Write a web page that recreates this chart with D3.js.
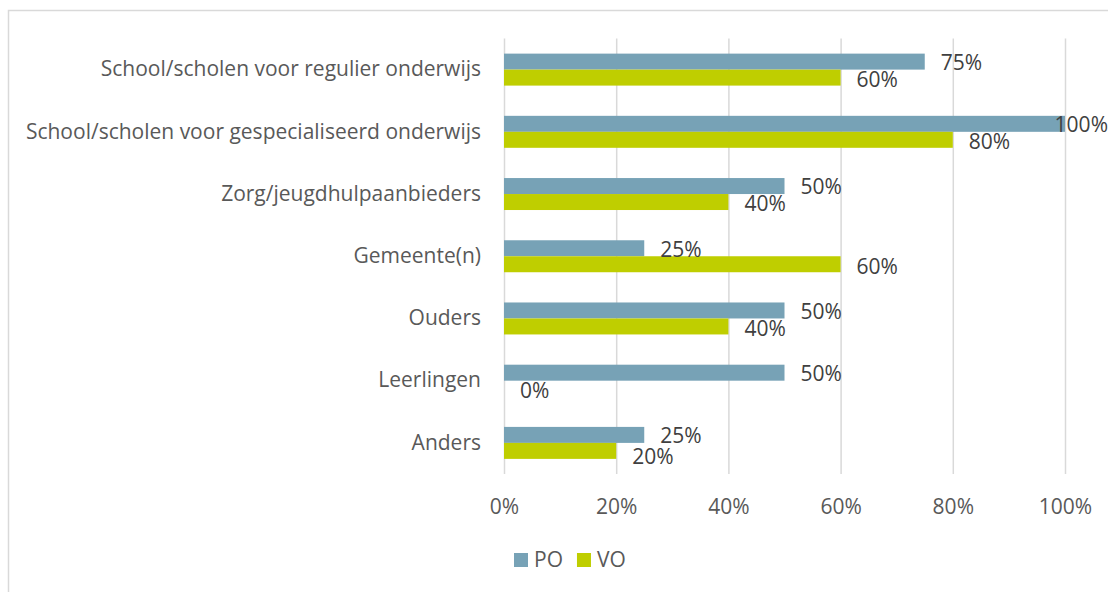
<!DOCTYPE html>
<html>
<head>
<meta charset="utf-8">
<script src="https://cdn.jsdelivr.net/npm/d3@7"></script>
<style>
  html, body { margin: 0; padding: 0; background: #fff; }
  svg { display: block; font-family: "Open Sans", sans-serif; }
</style>
</head>
<body>
<div id="chart"></div>
<script>
const categories = [
  'School/scholen voor regulier onderwijs',
  'School/scholen voor gespecialiseerd onderwijs',
  'Zorg/jeugdhulpaanbieders',
  'Gemeente(n)',
  'Ouders',
  'Leerlingen',
  'Anders'
];
const seriesNames = ['PO', 'VO'];
const poValues = [0.75, 1.00, 0.50, 0.25, 0.50, 0.50, 0.25];
const voValues = [0.60, 0.80, 0.40, 0.60, 0.40, 0.00, 0.20];
const xTicks = [0, 0.2, 0.4, 0.6, 0.8, 1.0];
const colors = { PO: '#77A2B6', VO: '#BFCE00' };

const width = 1108, height = 592;
const plot = { left: 504, right: 1065, top: 38.5, bottom: 474 };
const fontSize = '21px';

const svg = d3.select('#chart').append('svg')
  .attr('width', width).attr('height', height);

// chart frame (partly outside the window)
svg.append('rect')
  .attr('x', 8.5).attr('y', 10.5)
  .attr('width', 1120).attr('height', 600)
  .attr('fill', 'none').attr('stroke', '#D9D9D9').attr('stroke-width', 1.5);

const x = d3.scaleLinear().domain([0, 1]).range([plot.left, plot.right]);
const y = d3.scaleBand().domain(categories).range([plot.top, plot.bottom]).paddingInner(0.486).paddingOuter(0.243);
const ySub = d3.scaleBand().domain(seriesNames).range([0, y.bandwidth()]);

// gridlines
svg.append('g')
  .attr('transform', `translate(0, ${plot.top})`)
  .call(d3.axisBottom(x).tickValues(xTicks).tickFormat('').tickSize(plot.bottom - plot.top))
  .call(g => g.select('.domain').remove())
  .call(g => g.selectAll('line').attr('stroke', '#D9D9D9').attr('stroke-width', 1.5));

// x tick labels
svg.append('g')
  .attr('transform', `translate(0, ${plot.bottom})`)
  .call(d3.axisBottom(x).tickValues(xTicks).tickFormat(d3.format('.0%')).tickSize(0).tickPadding(25))
  .call(g => g.select('.domain').remove())
  .call(g => g.selectAll('text')
    .attr('fill', '#595959').style('font-size', fontSize).style('font-family', '"Open Sans", sans-serif'));

// category labels
svg.append('g')
  .attr('transform', `translate(${plot.left}, 0)`)
  .call(d3.axisLeft(y).tickSize(0).tickPadding(23))
  .call(g => g.select('.domain').remove())
  .call(g => g.selectAll('text')
    .attr('fill', '#595959').style('font-size', fontSize).style('font-family', '"Open Sans", sans-serif'));

const rows = categories.map((c, i) => ({ cat: c, PO: poValues[i], VO: voValues[i] }));

const groups = svg.append('g').selectAll('g')
  .data(rows)
  .join('g')
  .attr('transform', d => `translate(0, ${y(d.cat)})`);

groups.selectAll('rect')
  .data(d => seriesNames.map(s => ({ s, v: d[s] })))
  .join('rect')
  .attr('x', x(0))
  .attr('y', d => ySub(d.s))
  .attr('width', d => x(d.v) - x(0))
  .attr('height', ySub.bandwidth())
  .attr('fill', d => colors[d.s]);

// data labels, right of the bar end, kept inside the window
groups.each(function () {
  const g = d3.select(this);
  const labels = g.selectAll('text')
    .data(d => seriesNames.map(s => ({ s, v: d[s] })))
    .join('text')
    .attr('fill', '#404040')
    .attr('dy', '0.35em')
    .style('font-size', fontSize)
    .text(d => d3.format('.0%')(d.v))
    .attr('x', function (d) {
      const w = this.getComputedTextLength();
      return Math.min(x(d.v) + 16, width - w);
    })
    .attr('y', d => ySub(d.s) + ySub.bandwidth() / 2 + (d.s === 'VO' ? 2 : 1));

  // push the VO label down a bit when it runs into the PO label
  const [po, vo] = labels.nodes();
  const poX = +po.getAttribute('x'), voX = +vo.getAttribute('x');
  const poW = po.getComputedTextLength(), voW = vo.getComputedTextLength();
  if (voX < poX + poW && voX + voW > poX) {
    d3.select(vo).attr('y', +vo.getAttribute('y') + 4);
  }
});

// legend
const legend = svg.append('g').attr('transform', 'translate(514, 560)');
let lx = 0;
seriesNames.forEach(s => {
  legend.append('rect').attr('x', lx).attr('y', -7).attr('width', 14).attr('height', 14).attr('fill', colors[s]);
  const t = legend.append('text').attr('x', lx + 20).attr('dy', '0.35em')
    .attr('fill', '#595959').style('font-size', fontSize).text(s);
  lx += 20 + t.node().getComputedTextLength() + 14;
});
</script>
</body>
</html>
